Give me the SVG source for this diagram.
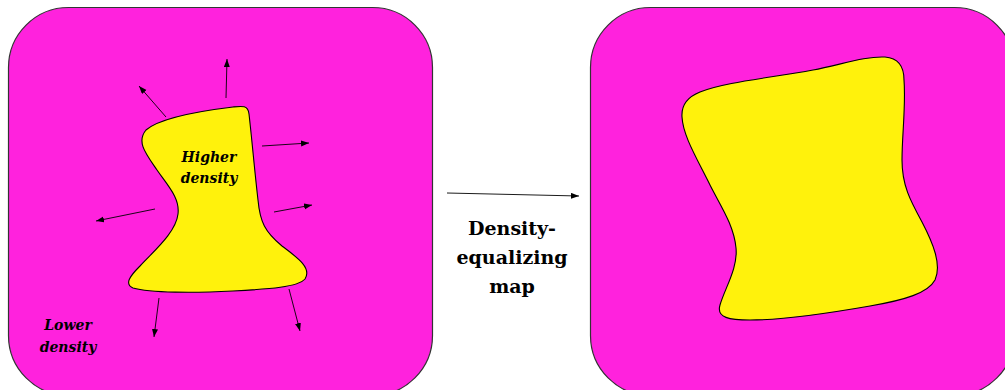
<svg xmlns="http://www.w3.org/2000/svg" width="1005" height="390" viewBox="0 0 1005 390">
<style>
.panel{fill:#FF22DD;stroke:#333;stroke-width:1.2}
.blob{fill:#FFF20C;stroke:#000;stroke-width:1.1}
.arr{stroke:#000;stroke-width:0.9;fill:none;marker-end:url(#ah)}
.lbl{font-family:'DejaVu Serif',serif;font-weight:bold;font-style:italic;font-size:14px;fill:#000;text-anchor:middle}
.map{font-family:'DejaVu Serif',serif;font-weight:bold;font-size:19px;fill:#000;text-anchor:middle}
</style>
<defs>
<marker id="ah" markerUnits="userSpaceOnUse" markerWidth="10" markerHeight="8" refX="8" refY="3" orient="auto">
<path d="M0,0 L8,3 L0,6 Z" fill="#000"/>
</marker>
</defs>
<rect width="1005" height="390" fill="#fff"/>
<g id="panel-before">
<rect class="panel" x="8.5" y="7.5" width="424" height="388" rx="60" ry="60"/>
<path id="blob-before" class="blob" d="M 233,107 C 242,106 248,105 249,114 C 252,140 255,175 258,200 C 260,222 265,232 282,246 C 298,258 312,268 305,279 C 298,287 270,289 233,291 C 195,293 150,293 133,288 C 124,284 130,276 140,266 C 155,250 176,232 178,214 C 180,198 168,186 157,170 C 146,154 136,142 146,130 C 160,118 200,111 233,107 Z"/>
<text class="lbl" x="209" y="162">Higher</text>
<text class="lbl" x="209" y="183">density</text>
<text class="lbl" x="68" y="330">Lower</text>
<text class="lbl" x="68" y="352">density</text>
</g>
<g id="panel-after">
<rect class="panel" x="590.5" y="7.5" width="424" height="388" rx="60" ry="60"/>
<path id="blob-after" class="blob" d="M 682,117 C 681,103 690,96 700,92 C 725,82 770,78 813,70 C 840,65 865,56 885,57 C 898,58 904,66 904,80 C 906,105 902,135 902,160 C 902,185 910,200 922,222 C 933,243 942,265 935,280 C 928,293 905,300 870,306 C 830,313 780,320 750,320 C 730,320 716,318 720,305 C 725,288 738,268 736,248 C 734,225 720,205 710,185 C 695,155 683,135 682,117 Z"/>
</g>
<g id="map-label">
<text class="map" x="512" y="235">Density-</text>
<text class="map" x="512" y="264">equalizing</text>
<text class="map" x="512" y="293">map</text>
</g>
<g id="connectors">
<line class="arr" x1="166" y1="117" x2="139" y2="86"/>
<line class="arr" x1="226" y1="98" x2="227" y2="59"/>
<line class="arr" x1="262" y1="146" x2="309" y2="143"/>
<line class="arr" x1="274" y1="212" x2="312" y2="205"/>
<line class="arr" x1="155" y1="209" x2="96" y2="221"/>
<line class="arr" x1="159" y1="298" x2="154" y2="337"/>
<line class="arr" x1="289" y1="289" x2="300" y2="331"/>
<line class="arr" x1="447" y1="193" x2="579" y2="196"/>
</g>
</svg>
